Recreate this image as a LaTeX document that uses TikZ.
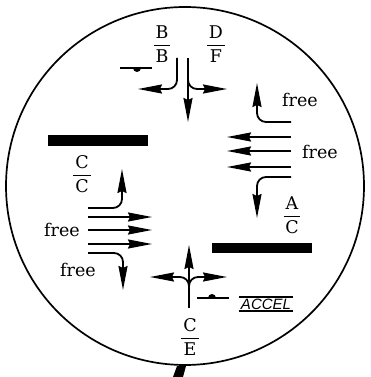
\documentclass[tikz,border=0pt]{standalone}
\usepackage{amsmath}
\usepackage{fontspec}
\setmainfont{DejaVu Serif}
\newfontfamily\accelfont{Liberation Sans}
\usetikzlibrary{arrows.meta,positioning}
\tikzset{
  flow/.style   ={-{Stealth[length=24pt,width=9pt,inset=2pt]},line width=1.8pt,
                  rounded corners=9pt},
  lbl/.style    ={inner sep=0pt,font=\fontsize{17.5}{20}\selectfont},
  slab/.style   ={fill=black},
  sigline/.style={line width=1.8pt},
  accel/.style  ={inner sep=1.5pt,font=\accelfont\itshape\fontsize{15}{17}\selectfont}
}
\newcommand{\rt}[2]{\(\genfrac{}{}{1.1pt}{0}{\text{\kern2pt#1\kern2pt}}{\text{#2}}\)}

\begin{document}
\begin{tikzpicture}[x=1pt,y=-1pt]
  \useasboundingbox (0,0) rectangle (371,377);
  \draw[line width=1.7pt] (185,186) circle (179);
  \fill (177,366) -- (186,366) -- (183,377) -- (173,377) -- cycle;
  % top
  \node[lbl] (bb) at (162,44) {\rt{B}{B}};
  \node[lbl] (df) at (216,44) {\rt{D}{F}};
  \coordinate (tl0) at (177,58);  \coordinate (tl1) at (138,89);
  \coordinate (tc0) at (188,58);  \coordinate (tc1) at (188,122);
  \coordinate (tr0) at (188,76);  \coordinate (tr1) at (227,89);
  \draw[flow] (tl0) |- (tl1);
  \draw[flow] (tc0) -- (tc1);
  \draw[flow] (tr0) |- (tr1);
  \draw[sigline] (120,68) -- (152,68);
  \fill (133,68) arc (180:0:4) -- cycle;
  % right
  \coordinate (ru0) at (291,122); \coordinate (ru1) at (257,83);
  \draw[flow] (ru0) -| (ru1);
  \node[lbl] (free1) at (300,100) {free};
  \foreach \y [count=\i] in {137,151,167}{
    \coordinate (rs\i) at (291,\y); \coordinate (re\i) at (227,\y);
    \draw[flow] (rs\i) -- (re\i);
  }
  \node[lbl] (free2) at (320,152) {free};
  \coordinate (rd0) at (291,177); \coordinate (rd1) at (257,218);
  \draw[flow] (rd0) -| (rd1);
  \node[lbl] (ac) at (292,215) {\rt{A}{C}};
  \fill[slab] (212,243) rectangle (312,253);
  % left
  \fill[slab] (48,135) rectangle (148,146);
  \node[lbl] (cc) at (82,174) {\rt{C}{C}};
  \coordinate (lu0) at (88,208);  \coordinate (lu1) at (122,169);
  \draw[flow] (lu0) -| (lu1);
  \foreach \y [count=\i] in {217,230,244}{
    \coordinate (ls\i) at (88,\y); \coordinate (le\i) at (152,\y);
    \draw[flow] (ls\i) -- (le\i);
  }
  \node[lbl] (free3) at (62,230) {free};
  \coordinate (ld0) at (88,253);  \coordinate (ld1) at (123,290);
  \draw[flow] (ld0) -| (ld1);
  \node[lbl] (free4) at (78,270) {free};
  % bottom
  \coordinate (bc0) at (189,308); \coordinate (bc1) at (189,245);
  \coordinate (bb0) at (189,290);
  \coordinate (bl1) at (150,277); \coordinate (br1) at (227,277);
  \draw[flow] (bc0) -- (bc1);
  \draw[flow] (bb0) |- (bl1);
  \draw[flow] (bb0) |- (br1);
  \draw[sigline] (197,298) -- (229,298);
  \fill (208,298) arc (180:360:4) -- cycle;
  \node[accel] (acc) at (266,304) {ACCEL};
  \draw[sigline,line width=1.3pt] (acc.north west) -- (acc.north east);
  \draw[sigline,line width=1.3pt] (acc.south west) -- (acc.south east);
  \node[lbl] (ce) at (190,337) {\rt{C}{E}};
\end{tikzpicture}
\end{document}
